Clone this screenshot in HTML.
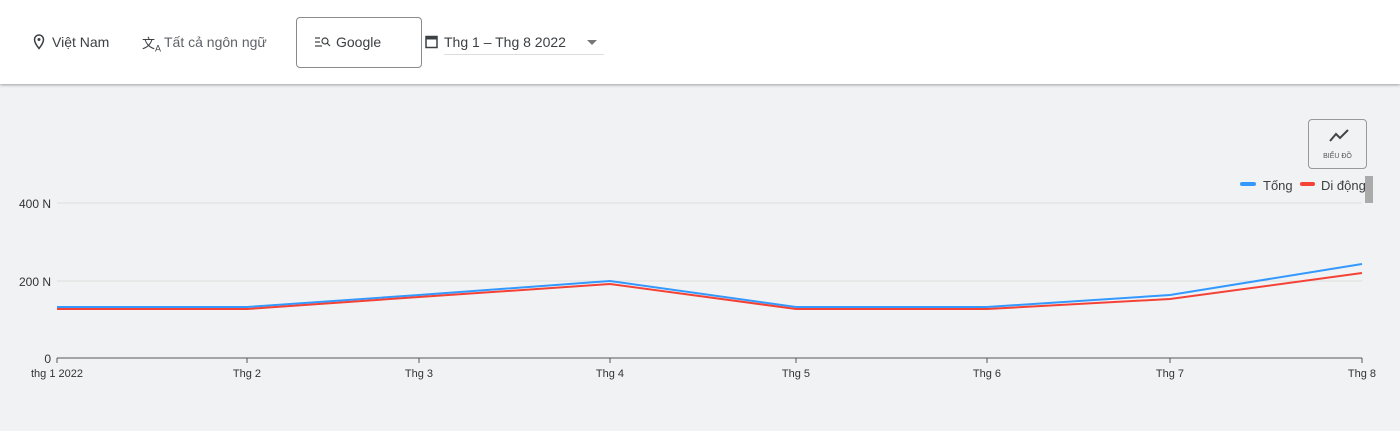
<!DOCTYPE html>
<html><head><meta charset="utf-8"><style>
body{margin:0;width:1400px;height:431px;background:#f1f2f4;font-family:"Liberation Sans","Noto Sans CJK SC",sans-serif;overflow:hidden;position:relative}
.hdr{position:absolute;left:0;top:0;width:1400px;height:84px;background:#fff;box-shadow:0 1px 3px rgba(0,0,0,.35)}
.t{position:absolute;font-size:14px;color:#3c4043}
.box{position:absolute;left:296px;top:17px;width:124px;height:49px;border:1px solid #8a8a8a;border-radius:4px;background:#fff}
.btn{position:absolute;left:1308px;top:119px;width:57px;height:48px;border:1px solid #999;border-radius:4px}
</style></head><body>
<div class="hdr">
<svg style="position:absolute;left:33px;top:34px" width="12" height="16" viewBox="0 0 12 16"><path d="M6 1a4.5 4.5 0 0 0-4.5 4.5C1.5 9 6 14.5 6 14.5S10.5 9 10.5 5.5A4.5 4.5 0 0 0 6 1z" fill="none" stroke="#3c4043" stroke-width="1.5"/><circle cx="6" cy="5.5" r="1.5" fill="#3c4043"/></svg>
<div class="t" style="left:52px;top:34px">Việt Nam</div>
<div class="t" style="left:142px;top:33px;font-size:13px">文<sub style="font-size:9px">A</sub></div>
<div class="t" style="left:164px;top:34px;color:#5f6368">Tất cả ngôn ngữ</div>
<div class="box"></div>
<svg style="position:absolute;left:315px;top:36px" width="16" height="12"><g stroke="#3c4043" stroke-width="1.2" fill="none"><line x1="0" y1="2" x2="5" y2="2"/><line x1="0" y1="6" x2="5" y2="6"/><line x1="0" y1="10" x2="7" y2="10"/><circle cx="10" cy="5" r="3"/><line x1="12" y1="7" x2="15" y2="10"/></g></svg>
<div class="t" style="left:336px;top:34px">Google</div>
<svg style="position:absolute;left:425px;top:34px" width="13" height="15"><rect x="1" y="2.5" width="11" height="11" fill="none" stroke="#3c4043" stroke-width="1.5"/><rect x="1" y="2.5" width="11" height="3" fill="#3c4043"/></svg>
<div class="t" style="left:444px;top:34px">Thg 1 – Thg 8 2022</div>
<div style="position:absolute;left:587px;top:40px;border:5px solid transparent;border-top:5px solid #777;border-bottom:0"></div>
<div style="position:absolute;left:444px;top:54px;width:160px;height:1px;background:#ddd"></div>
</div>
<div class="btn"><svg style="position:absolute;left:20px;top:9px" width="20" height="14"><polyline points="1,12 7,5 11,9 19,1" fill="none" stroke="#444" stroke-width="2"/></svg><div style="position:absolute;top:33px;width:57px;text-align:center;font-size:7px;color:#555">BIỂU ĐỒ</div></div>
<div style="position:absolute;left:1365px;top:176px;width:8px;height:27px;background:#aaa"></div>
<svg style="position:absolute;left:0;top:0" width="1400" height="431">
<line x1="1242" y1="184" x2="1254" y2="184" stroke="#3399ff" stroke-width="4" stroke-linecap="round"/>
<text x="1263" y="190" font-size="13" fill="#3c4043">Tống</text>
<line x1="1302" y1="184" x2="1313" y2="184" stroke="#f44336" stroke-width="4" stroke-linecap="round"/>
<text x="1321" y="190" font-size="13" fill="#3c4043">Di động</text>
<line x1="57" y1="203" x2="1362" y2="203" stroke="#ddd"/>
<line x1="57" y1="281" x2="1362" y2="281" stroke="#ddd"/>
<line x1="57" y1="358" x2="1362" y2="358" stroke="#555"/>
<g font-size="12" fill="#333" text-anchor="end"><text x="51" y="208">400 N</text><text x="51" y="286">200 N</text><text x="51" y="363">0</text></g>
<g font-size="11" fill="#333" text-anchor="middle">
<text x="57" y="377">thg 1 2022</text><text x="247" y="377">Thg 2</text><text x="419" y="377">Thg 3</text><text x="610" y="377">Thg 4</text><text x="796" y="377">Thg 5</text><text x="987" y="377">Thg 6</text><text x="1170" y="377">Thg 7</text><text x="1362" y="377">Thg 8</text></g>
<g stroke="#555"><line x1="57" y1="358" x2="57" y2="363"/><line x1="247" y1="358" x2="247" y2="363"/><line x1="419" y1="358" x2="419" y2="363"/><line x1="610" y1="358" x2="610" y2="363"/><line x1="796" y1="358" x2="796" y2="363"/><line x1="987" y1="358" x2="987" y2="363"/><line x1="1170" y1="358" x2="1170" y2="363"/><line x1="1362" y1="358" x2="1362" y2="363"/></g>
<polyline points="57,307 247,307 419,295 610,281 796,307 987,307 1170,295 1362,264" fill="none" stroke="#3399ff" stroke-width="2"/>
<polyline points="57,309 247,309 419,297 610,284 796,309 987,309 1170,299 1362,273" fill="none" stroke="#f44336" stroke-width="2"/>
</svg>
</body></html>
